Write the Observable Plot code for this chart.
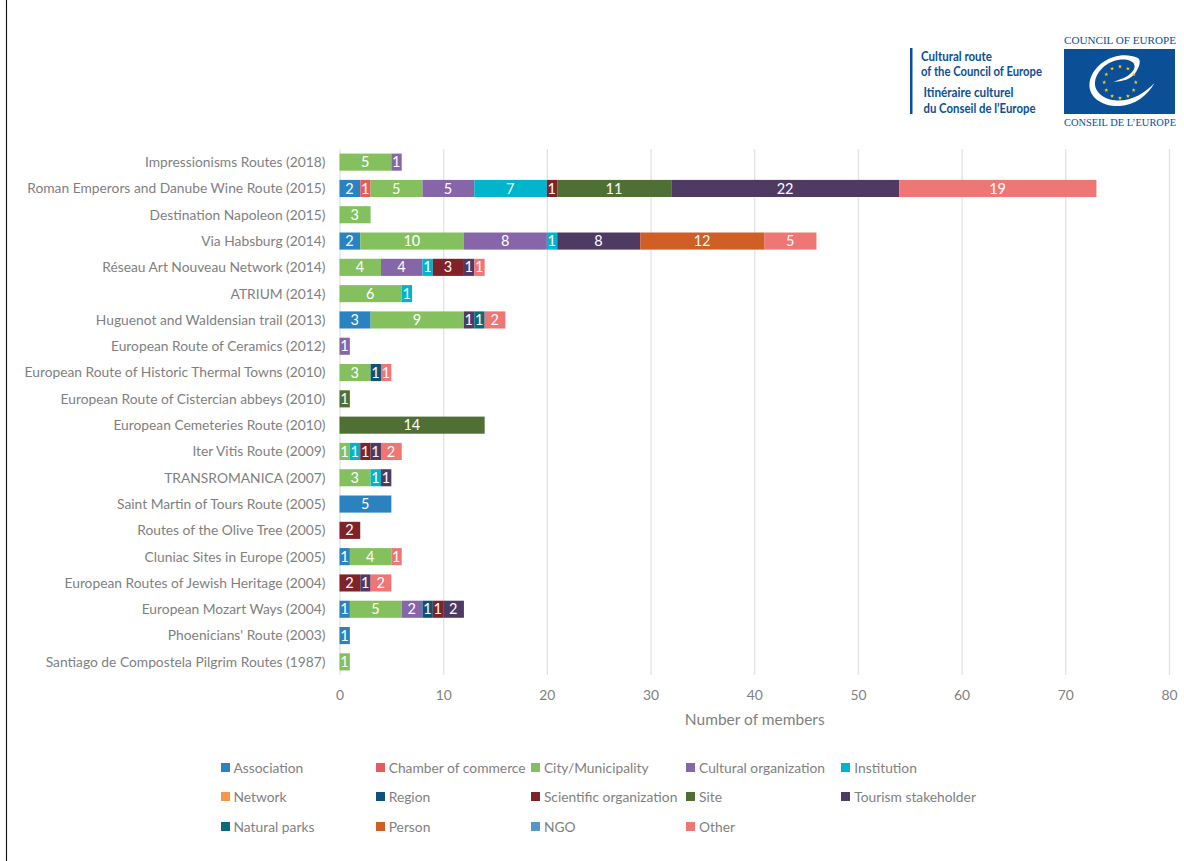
<!DOCTYPE html>
<html>
<head>
<meta charset="utf-8">
<script src="https://cdn.jsdelivr.net/npm/d3@7"></script>
<script src="https://cdn.jsdelivr.net/npm/@observablehq/plot@0.6"></script>
<style>
html,body{margin:0;padding:0;background:#fff;overflow:hidden;}
body{width:1184px;height:861px;position:relative;font-family:Lato,sans-serif;}
#edge{position:absolute;left:6px;top:0;width:1px;height:861px;background:#111;box-shadow:0 0 1px #666;}
#chart{position:absolute;left:0;top:0;}
#logo{position:absolute;left:0;top:0;}
#legend{position:absolute;left:220.5px;top:752.5px;display:grid;grid-template-columns:repeat(5,155.2px);grid-auto-rows:29.5px;font-size:13.8px;color:#7f7f7f;}
#legend div{display:flex;align-items:center;white-space:nowrap;}
#legend i{display:inline-block;width:9px;height:9px;margin-right:4px;flex:none;}
</style>
</head>
<body>
<div id="edge"></div>
<div id="chart"></div>
<svg id="logo" width="1184" height="145" viewBox="0 0 1184 145"></svg>
<div id="legend"></div>
<script>
const routes = [
  "Impressionisms Routes (2018)",
  "Roman Emperors and Danube Wine Route (2015)",
  "Destination Napoleon (2015)",
  "Via Habsburg (2014)",
  "Réseau Art Nouveau Network (2014)",
  "ATRIUM (2014)",
  "Huguenot and Waldensian trail (2013)",
  "European Route of Ceramics (2012)",
  "European Route of Historic Thermal Towns (2010)",
  "European Route of Cistercian abbeys (2010)",
  "European Cemeteries Route (2010)",
  "Iter Vitis Route (2009)",
  "TRANSROMANICA (2007)",
  "Saint Martin of Tours Route (2005)",
  "Routes of the Olive Tree (2005)",
  "Cluniac Sites in Europe (2005)",
  "European Routes of Jewish Heritage (2004)",
  "European Mozart Ways (2004)",
  "Phoenicians' Route (2003)",
  "Santiago de Compostela Pilgrim Routes (1987)"
];
const categories = ["Association","Chamber of commerce","City/Municipality","Cultural organization","Institution","Network","Region","Scientific organization","Site","Tourism stakeholder","Natural parks","Person","NGO","Other"];
const colors = ["#2a82c0","#e35d5d","#85c05f","#8666a8","#00b4cc","#f79646","#0f5178","#7f2329","#4f7032","#4f3a63","#0a6a7c","#cf5f25","#5499c7","#ee7674"];

const association  = [0,2,0,2,0,0,3,0,0,0,0,0,0,5,0,1,0,1,1,0];
const chamber      = [0,1,0,0,0,0,0,0,0,0,0,0,0,0,0,0,0,0,0,0];
const city         = [5,5,3,10,4,6,9,0,3,0,0,1,3,0,0,4,0,5,0,1];
const cultural     = [1,5,0,8,4,0,0,1,0,0,0,0,0,0,0,0,0,2,0,0];
const institution  = [0,7,0,1,1,1,0,0,0,0,0,1,1,0,0,0,0,0,0,0];
const network      = [0,0,0,0,0,0,0,0,0,0,0,0,0,0,0,0,0,0,0,0];
const region       = [0,0,0,0,0,0,0,0,1,0,0,0,0,0,0,0,0,1,0,0];
const scientific   = [0,1,0,0,3,0,0,0,0,0,0,1,0,0,2,0,2,1,0,0];
const site         = [0,11,0,0,0,0,0,0,0,1,14,0,0,0,0,0,0,0,0,0];
const tourism      = [0,22,0,8,1,0,1,0,0,0,0,1,1,0,0,0,1,2,0,0];
const naturalParks = [0,0,0,0,0,0,1,0,0,0,0,0,0,0,0,0,0,0,0,0];
const person       = [0,0,0,12,0,0,0,0,0,0,0,0,0,0,0,0,0,0,0,0];
const ngo          = [0,0,0,0,0,0,0,0,0,0,0,0,0,0,0,0,0,0,0,0];
const other        = [0,19,0,5,1,0,2,0,1,0,0,2,0,0,0,1,2,0,0,0];
const xTicks = [0,10,20,30,40,50,60,70,80];

const series = [association,chamber,city,cultural,institution,network,region,scientific,site,tourism,naturalParks,person,ngo,other];
const rows = series.flatMap((vals,c) => vals.map((value,r) => ({route:routes[r],category:categories[c],value})).filter(d => d.value>0));

const labelColor = "#7f7f7f";
const plot = Plot.plot({
  width:1184, height:740,
  marginLeft:339.5, marginRight:15, marginTop:149, marginBottom:65,
  style:{fontFamily:"Lato,sans-serif",fontSize:"14px",color:labelColor,background:"transparent",overflow:"visible"},
  x:{domain:[0,80],ticks:xTicks,label:null},
  y:{domain:routes,label:null,paddingInner:0.35,paddingOuter:0.175,round:false},
  color:{domain:categories,range:colors},
  marks:[
    Plot.gridX(xTicks,{stroke:"#e2e2e2",strokeOpacity:1,strokeWidth:1.3}),
    Plot.axisX({ticks:xTicks,tickSize:0,tickPadding:15,fontSize:13.9,fill:labelColor,label:null}),
    Plot.axisY({tickSize:0,tickPadding:14.5,fontSize:13.8,fill:labelColor,label:null,textAnchor:"end",lineWidth:40}),
    Plot.barX(rows,Plot.stackX({x:"value",y:"route",fill:"category",z:"category",order:categories})),
    Plot.text(rows,Plot.stackX({x:"value",y:"route",z:"category",order:categories,text:d=>String(d.value),fill:"#fff",fontSize:14.5,dx:-0.8})),
    Plot.text(["Number of members"],{frameAnchor:"bottom",lineAnchor:"middle",dy:45,text:d=>d,fill:labelColor,fontSize:15.5})
  ]
});
document.getElementById("chart").appendChild(plot);

// legend
const legend = d3.select("#legend");
categories.forEach((c,i) => {
  const item = legend.append("div");
  item.append("i").style("background",colors[i]);
  item.append("span").text(c);
});

// Council of Europe emblem (decorative header)
const logo = d3.select("#logo");
const blue = "#0b4f96";
logo.append("rect").attr("x",910).attr("y",48).attr("width",2.5).attr("height",66).attr("fill",blue);
[["Cultural route",921,61,71],["of the Council of Europe",921,76,121],["Itinéraire culturel",923.5,97,90],["du Conseil de l’Europe",923.5,113,112]].forEach(([t,x,y,w]) => {
  logo.append("text").text(t).attr("x",x).attr("y",y).attr("fill",blue)
    .attr("font-family","Lato,sans-serif").attr("font-weight",700).attr("font-size",13.5)
    .attr("textLength",w).attr("lengthAdjust","spacingAndGlyphs");
});
logo.append("rect").attr("x",1064).attr("y",49).attr("width",111).attr("height",65).attr("fill",blue);
[["COUNCIL OF EUROPE",44],["CONSEIL DE L’EUROPE",126]].forEach(([t,y]) => {
  logo.append("text").text(t).attr("x",1064).attr("y",y).attr("fill",blue)
    .attr("font-family","'Liberation Serif',serif").attr("font-size",11)
    .attr("textLength",112).attr("lengthAdjust","spacingAndGlyphs");
});
logo.append("path").attr("fill","#fff").attr("d","M1113.5 82C1122 81 1131 80 1136 72C1140 66 1141 60 1138 58C1120 50 1096 60 1090 80C1086 98 1104 107 1120 106C1135 105 1147 96 1154.5 83C1145 93 1132 101 1117 100.5C1104 100 1094 92 1095 82C1097 68 1113 57 1128 60C1136 62 1136 68 1132 72C1127 78 1120 79 1113.5 82Z");
d3.range(12).forEach(i => {
  const a = i*Math.PI/6, cx = 1120+15.8*Math.sin(a), cy = 82.3-15.8*Math.cos(a);
  const pts = d3.range(10).map(k => {
    const r = k%2 ? 0.9 : 2.1, b = k*Math.PI/5;
    return [cx+r*Math.sin(b), cy-r*Math.cos(b)].join(",");
  }).join(" ");
  logo.append("polygon").attr("points",pts).attr("fill","#fc0");
});
</script>
</body>
</html>
